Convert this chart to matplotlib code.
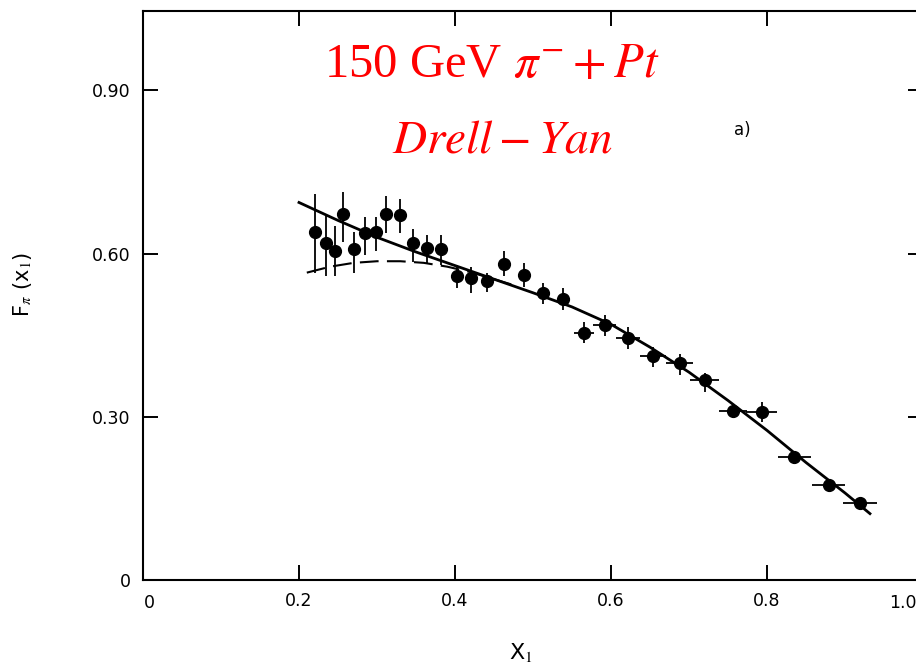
import matplotlib
matplotlib.use("Agg")
import matplotlib.pyplot as plt
import numpy as np

# data points
x1 = [0.221, 0.234, 0.246, 0.257, 0.271, 0.285, 0.299, 0.312, 0.329, 0.346,
      0.364, 0.382, 0.402, 0.421, 0.441, 0.463, 0.488, 0.513, 0.538, 0.565,
      0.592, 0.622, 0.654, 0.688, 0.720, 0.756, 0.793, 0.835, 0.879, 0.919]
f_pi = [0.640, 0.620, 0.605, 0.673, 0.608, 0.638, 0.639, 0.673, 0.671, 0.620,
        0.611, 0.608, 0.558, 0.555, 0.550, 0.581, 0.561, 0.528, 0.516, 0.454,
        0.469, 0.445, 0.412, 0.399, 0.368, 0.311, 0.308, 0.227, 0.175, 0.142]
f_hi = [0.710, 0.669, 0.651, 0.714, 0.639, 0.668, 0.668, 0.706, 0.700, 0.645,
        0.635, 0.635, 0.579, 0.576, 0.564, 0.604, 0.582, 0.546, 0.537, 0.475,
        0.487, 0.465, 0.429, 0.416, 0.381, 0.322, 0.328, 0.237, 0.184, 0.150]
f_lo = [0.565, 0.558, 0.558, 0.622, 0.564, 0.598, 0.604, 0.638, 0.638, 0.585,
        0.582, 0.579, 0.536, 0.527, 0.530, 0.558, 0.538, 0.508, 0.497, 0.435,
        0.448, 0.425, 0.391, 0.377, 0.346, 0.300, 0.291, 0.216, 0.166, 0.134]
x_halfwidth = [0, 0, 0, 0, 0, 0, 0, 0, 0, 0,
               0, 0, 0, 0, 0, 0, 0, 0, 0, 0.013,
               0.015, 0.015, 0.017, 0.017, 0.019, 0.018, 0.020, 0.021, 0.021, 0.022]

# fit curves
fit_x = [0.20, 0.25, 0.30, 0.35, 0.40, 0.45, 0.50, 0.55, 0.60, 0.65,
         0.70, 0.75, 0.80, 0.85, 0.90, 0.932]
fit_y = [0.694, 0.661, 0.630, 0.603, 0.578, 0.553, 0.528, 0.502, 0.470, 0.428,
         0.382, 0.330, 0.275, 0.216, 0.160, 0.122]
dash_x = [0.21, 0.24, 0.27, 0.30, 0.33, 0.36, 0.39, 0.42, 0.45, 0.48]
dash_y = [0.565, 0.576, 0.583, 0.586, 0.586, 0.583, 0.576, 0.566, 0.553, 0.540]

xticks = [0, 0.2, 0.4, 0.6, 0.8, 1.0]
xtick_labels = ["0", "0.2", "0.4", "0.6", "0.8", "1.0"]
yticks = [0, 0.30, 0.60, 0.90]
ytick_labels = ["0", "0.30", "0.60", "0.90"]

plt.rcParams["mathtext.fontset"] = "stix"

fig = plt.figure(figsize=(9.16, 6.69), dpi=100)
ax = fig.add_axes([143 / 916, 89 / 669, 780 / 916, 569 / 669])

x1a, fa = np.array(x1), np.array(f_pi)
yerr = [fa - np.array(f_lo), np.array(f_hi) - fa]
ax.errorbar(x1a, fa, yerr=yerr, xerr=x_halfwidth, fmt="o", color="black",
            ms=8.5, elinewidth=1.3, capsize=0, zorder=3)
ax.plot(fit_x, fit_y, color="black", lw=2.0, zorder=2)
ax.plot(dash_x, dash_y, color="black", lw=1.5, dashes=(9, 4), zorder=2)

ax.set_xlim(0, 1.0)
ax.set_ylim(0, 1.046)
ax.set_xticks(xticks[1:5])
ax.set_xticklabels(xtick_labels[1:5])
ax.set_yticks(yticks)
ax.set_yticklabels(ytick_labels)
ax.tick_params(direction="in", length=11, width=1.4, labelsize=12.5,
               top=True, right=True, pad=9)
for s in ax.spines.values():
    s.set_linewidth(1.5)

# the "0" and "1.0" x labels sit under the spine ends (scan is clipped at right)
ax.text(0.008, -0.025, xtick_labels[0], transform=ax.get_xaxis_transform(),
        ha="center", va="top", fontsize=12.5)
ax.text(0.992, -0.025, xtick_labels[5], transform=ax.get_xaxis_transform(),
        ha="right", va="top", fontsize=12.5)

fig.text(22 / 916, 1 - 285 / 669, r"F$_\pi$ (x$_1$)", rotation=90,
         ha="center", va="center", fontsize=15)
fig.text(521 / 916, 1 - 652 / 669, r"X$_1$", ha="center", va="center",
         fontsize=16)

fig.text(492 / 916, 1 - 65 / 669, r"150 GeV $\pi^{-} + Pt$", color="red",
         family="Liberation Serif", fontsize=35, ha="center", va="center")
fig.text(502 / 916, 1 - 140 / 669, r"$Drell - Yan$", color="red",
         fontsize=34, ha="center", va="center")
fig.text(742 / 916, 1 - 130 / 669, "a)", fontsize=12, ha="center",
         va="center")

fig.savefig("out.png", dpi=100)
